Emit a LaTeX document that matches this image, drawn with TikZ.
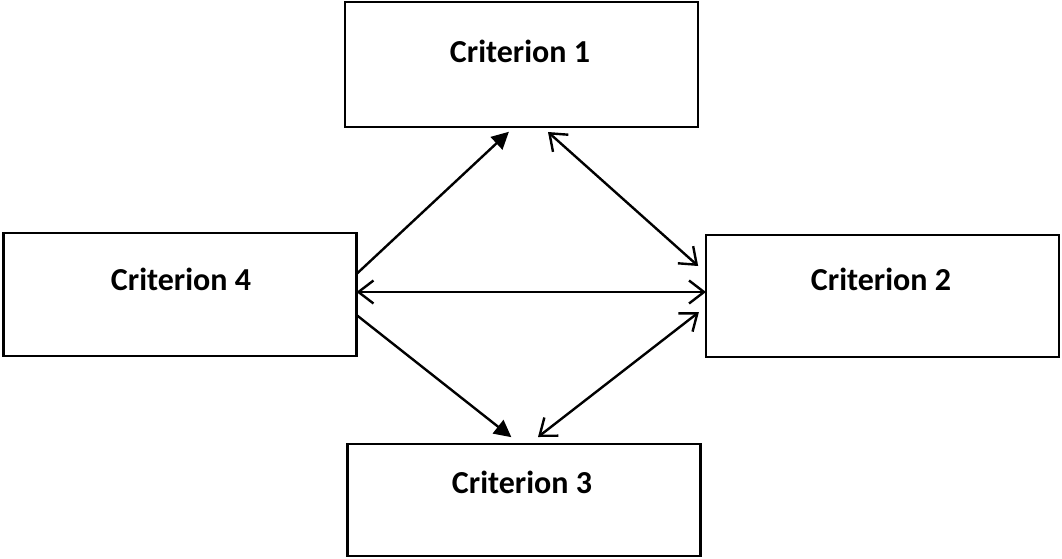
\documentclass[tikz,border=0pt]{standalone}
\usepackage{fontspec}
\setmainfont{Carlito}
\usetikzlibrary{arrows.meta}
\begin{document}
\begin{tikzpicture}[x=1pt,y=-1pt,
  box/.style={draw=black,line width=2.8pt,inner sep=0pt,outer sep=0pt,minimum width=353pt},
  lbl/.style={anchor=base,inner sep=0pt,font=\fontsize{32}{38}\selectfont\bfseries},
  conn/.style={draw=black,line width=2.4pt},
  solidhead/.style={-{Triangle[length=17pt,width=17pt]}},
  openboth/.style={{Straight Barb[length=15pt,width=23pt,line width=2.4pt]}-{Straight Barb[length=15pt,width=23pt,line width=2.4pt]}}
]
\useasboundingbox (0,0) rectangle (1062,559);
\node[box,minimum height=125pt] (c1) at (521.5,64.5) {};
\node[box,minimum height=123pt] (c4) at (180,294.5) {};
\node[box,minimum height=122pt] (c2) at (882.5,296) {};
\node[box,minimum height=112pt] (c3) at (524,500) {};
\node[lbl] (l1) at (520,63) {Criterion 1};
\node[lbl] (l4) at (181,290) {Criterion 4};
\node[lbl] (l2) at (881,290) {Criterion 2};
\node[lbl] (l3) at (522,493) {Criterion 3};
% C4 -> C1
\draw[conn,solidhead,shorten >=7pt] (c4.east |- 0,274) -- (c1.south -| 514,0);
% C1 <-> C2
\draw[conn,openboth,shorten <=7.5pt,shorten >=10.5pt] (c1.south -| 542.4,0) -- (c2.west |- 0,273);
% C4 <-> C2
\draw[conn,openboth] (c4.east |- 0,292) -- (c2.west |- 0,292);
% C4 -> C3
\draw[conn,solidhead,shorten >=11pt] (c4.east |- 0,315) -- (c3.north -| 520,0);
% C2 <-> C3
\draw[conn,openboth,shorten <=9pt,shorten >=11.4pt] (c2.west |- 0,306.6) -- (c3.north -| 529,0);
\end{tikzpicture}
\end{document}
